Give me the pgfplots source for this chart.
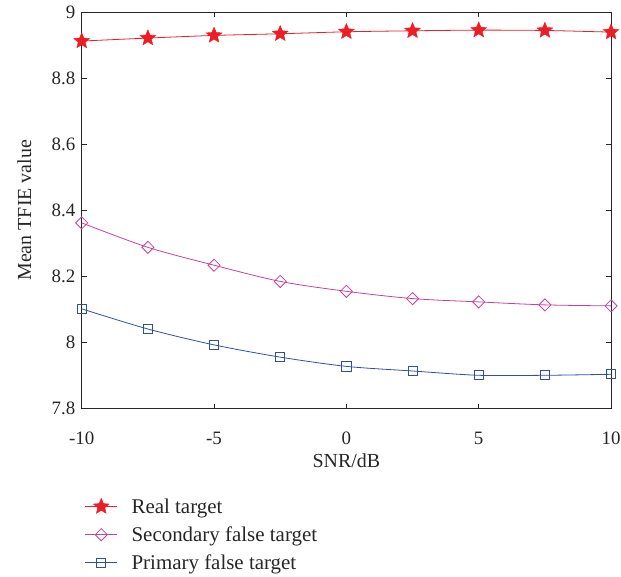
\documentclass[border=0pt]{standalone}
\usepackage{pgfplots}
\pgfplotsset{compat=1.18}
\usepackage{fontspec}
\setmainfont{Liberation Serif}
\usetikzlibrary{plotmarks}

\definecolor{realc}{HTML}{EE1C25}
\definecolor{secc}{HTML}{C8409E}
\definecolor{primc}{HTML}{2E4FA8}

% filled five-pointed star
\pgfdeclareplotmark{fstar}{%
  \pgfpathmoveto{\pgfqpointpolar{90}{\pgfplotmarksize}}%
  \pgfpathlineto{\pgfqpointpolar{126}{0.45\pgfplotmarksize}}%
  \pgfpathlineto{\pgfqpointpolar{162}{\pgfplotmarksize}}%
  \pgfpathlineto{\pgfqpointpolar{198}{0.45\pgfplotmarksize}}%
  \pgfpathlineto{\pgfqpointpolar{234}{\pgfplotmarksize}}%
  \pgfpathlineto{\pgfqpointpolar{270}{0.45\pgfplotmarksize}}%
  \pgfpathlineto{\pgfqpointpolar{306}{\pgfplotmarksize}}%
  \pgfpathlineto{\pgfqpointpolar{342}{0.45\pgfplotmarksize}}%
  \pgfpathlineto{\pgfqpointpolar{18}{\pgfplotmarksize}}%
  \pgfpathlineto{\pgfqpointpolar{54}{0.45\pgfplotmarksize}}%
  \pgfpathclose
  \pgfusepathqfillstroke
}

\pgfplotstableread{
snr   real   sec    prim
-10   8.912  8.362  8.102
-7.5  8.921  8.288  8.041
-5    8.929  8.234  7.993
-2.5  8.934  8.185  7.956
0     8.940  8.155  7.928
2.5   8.943  8.133  7.914
5     8.945  8.123  7.901
7.5   8.944  8.114  7.901
10    8.939  8.111  7.904
}\datatable

\begin{document}
\begin{tikzpicture}
\begin{axis}[
  scale only axis,
  width=531pt, height=398pt,
  xmin=-10, xmax=10, ymin=7.8, ymax=9,
  xtick={-10,-5,...,10},
  ytick={7.8,8,...,9},
  tick align=inside,
  major tick length=5pt,
  axis line style={line width=0.8pt, black!85},
  tick style={line width=0.8pt, black!85},
  /pgf/number format/assume math mode=true,
  ticklabel style={font=\fontsize{19}{22}\selectfont, text=black!85},
  xticklabel style={yshift=-20pt, inner xsep=1pt},
  yticklabel style={xshift=-3pt},
  label style={font=\fontsize{20}{22}\selectfont, text=black!85},
  xlabel={SNR/dB},
  ylabel={Mean TFIE value},
  xlabel style={at={(axis description cs:0.5,0)}, anchor=north, yshift=-42pt},
  ylabel style={at={(axis description cs:0,0.5)}, anchor=south, yshift=47pt},
  legend style={
    at={(axis description cs:0.0,-0.216)}, anchor=north west,
    draw=none, fill=none,
    font=\fontsize{21}{23}\selectfont,
    text=black!85,
    row sep=8pt,
    /tikz/every odd column/.append style={column sep=12pt},
  },
  legend cell align=left,
  legend image code/.code={
    \draw[mark repeat=2,mark phase=2] plot coordinates {(-2pt,0pt) (14pt,0pt) (30pt,0pt)};
  },
  clip=false,
]
\addplot[smooth, line width=0.8pt, realc, mark=fstar, mark size=8.3pt,
  mark options={fill=realc, draw=realc, line width=0.4pt}]
  table[x=snr, y=real] {\datatable};
\addlegendentry{Real target}

\addplot[smooth, line width=0.8pt, secc, mark=square, mark size=4.3pt,
  mark options={line width=0.8pt, fill=none, rotate=45}]
  table[x=snr, y=sec] {\datatable};
\addlegendentry{Secondary false target}

\addplot[smooth, line width=0.8pt, primc, mark=square, mark size=4.6pt,
  mark options={line width=0.8pt, fill=none}]
  table[x=snr, y=prim] {\datatable};
\addlegendentry{Primary false target}
\end{axis}
\pgfresetboundingbox
\useasboundingbox ([xshift=-82pt,yshift=-168pt]current axis.south west)
  rectangle ([xshift=10pt,yshift=12pt]current axis.north east);
\end{tikzpicture}
\end{document}
